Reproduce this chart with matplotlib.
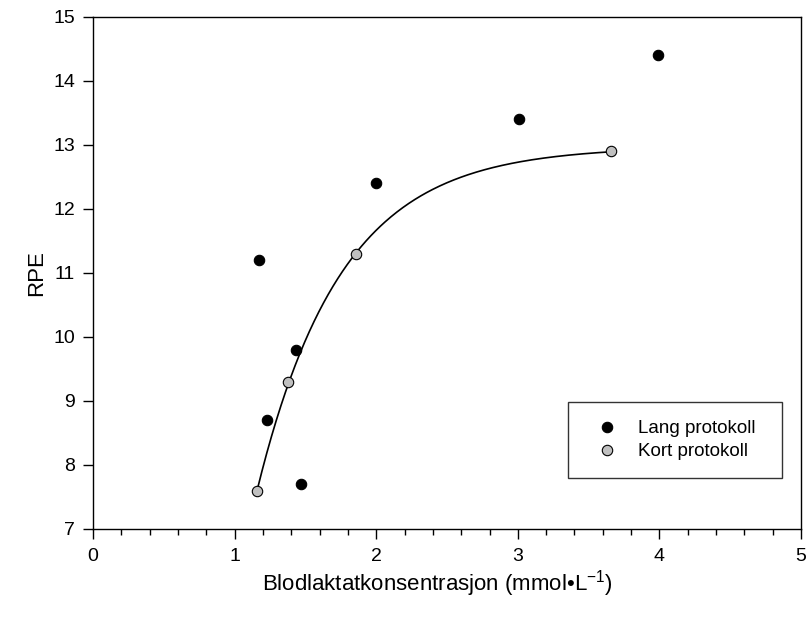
import numpy as np
import matplotlib
matplotlib.use("Agg")
import matplotlib.pyplot as plt
from matplotlib.ticker import MultipleLocator

plt.rcParams['font.family'] = ['Liberation Sans', 'DejaVu Sans']
plt.rcParams['mathtext.fontset'] = 'custom'
plt.rcParams['mathtext.rm'] = 'Liberation Sans'
plt.rcParams['mathtext.default'] = 'rm'

# data
langX = [1.17, 1.23, 1.43, 1.47, 2.00, 3.01, 3.99]
langY = [11.2, 8.7, 9.8, 7.7, 12.4, 13.4, 14.4]
kortX = [1.16, 1.38, 1.86, 3.66]
kortY = [7.6, 9.3, 11.3, 12.9]

# exponential rise to max fit through the short protocol: y = y0 + a*(1-exp(-b*x))
def fitCurve(x, y):
	x = np.asarray(x)
	y = np.asarray(y)
	best = None
	for b in np.linspace(0.05, 6, 2000):
		A = np.column_stack([np.ones_like(x), 1 - np.exp(-b * x)])
		coef, res, rk, sv = np.linalg.lstsq(A, y, rcond=None)
		err = np.sum((A @ coef - y) ** 2)
		if best is None or err < best[0]:
			best = (err, coef[0], coef[1], b)
	return best[1:]

y0, a, b = fitCurve(kortX, kortY)
xs = np.linspace(min(kortX), max(kortX), 300)
ys = y0 + a * (1 - np.exp(-b * xs))

fig = plt.figure(figsize=(8.1, 6.2), dpi=100)
ax = fig.add_axes([0.1148, 0.1468, 0.8742, 0.8258])

ax.plot(xs, ys, c='k', lw=1.2, zorder=2)
ax.plot(langX, langY, 'o', ms=7.5, mfc='k', mec='k', mew=0.8, ls='none', label='Lang protokoll', zorder=3)
ax.plot(kortX, kortY, 'o', ms=7.5, mfc='#c0c0c0', mec='k', mew=0.8, ls='none', label='Kort protokoll', zorder=3)

ax.set_xlim(0, 5)
ax.set_ylim(7, 15)
ax.xaxis.set_major_locator(MultipleLocator(1))
ax.xaxis.set_minor_locator(MultipleLocator(0.2))
ax.yaxis.set_major_locator(MultipleLocator(1))
ax.tick_params(which='major', direction='out', length=7, width=1, labelsize=14, top=False, right=False)
ax.tick_params(which='minor', direction='out', length=4, width=1, top=False, right=False)
ax.tick_params(axis='x', pad=7)
ax.tick_params(axis='y', pad=6)
for s in ax.spines.values():
	s.set_linewidth(1)

ax.set_xlabel("Blodlaktatkonsentrasjon (mmol\u2022L$^{-1}$)", fontsize=16)
ax.xaxis.set_label_coords(0.487, -0.076)
ax.set_ylabel("RPE", fontsize=16, labelpad=4)

leg = ax.legend(loc='lower left', bbox_to_anchor=(0.671, 0.0996, 0.302, 0.15), mode='expand',
	borderaxespad=0, fontsize=13.5, frameon=True, fancybox=False, edgecolor='k', handletextpad=0.6,
	borderpad=0.95, labelspacing=0.3, handlelength=2.2)
leg.get_frame().set_linewidth(1)

fig.savefig("out.png", dpi=100)
